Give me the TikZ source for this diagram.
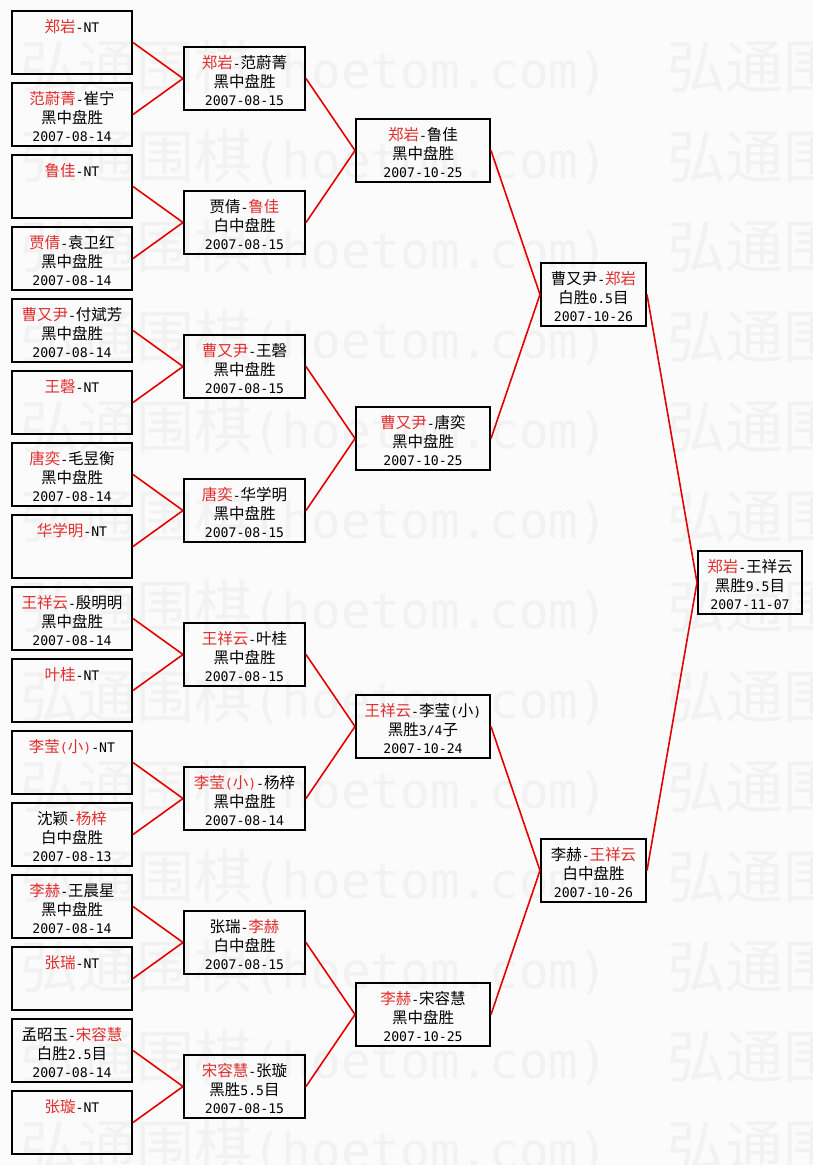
\documentclass[tikz,border=0pt]{standalone}
\usepackage{fontspec}
\setmainfont{DejaVu Sans Mono}[Scale=0.85]
\newfontfamily\cjk{Noto Sans CJK SC}
\definecolor{wred}{RGB}{225,45,45}
\definecolor{lred}{RGB}{228,0,0}
\definecolor{bg}{RGB}{251,251,251}
\definecolor{wmark}{RGB}{242,242,242}
\newcommand\cj[1]{{\cjk #1}}
\newcommand\rd[1]{{\color{wred}\cjk #1}}
\newcommand\pr[1]{{\rmfamily #1}}
\newcommand\tst{\rule{0pt}{21pt}}
\newcommand\bst{\rule[-4pt]{0pt}{4pt}}
\tikzset{
  box/.style={draw=black, line width=2pt, inner sep=0pt, minimum height=63pt,
    align=center, font=\fontsize{15.5}{18.5}\selectfont},
  boxa/.style={box, minimum width=120pt},
  boxb/.style={box, minimum width=121pt},
  boxc/.style={box, minimum width=134pt},
  boxd/.style={box, minimum width=105pt},
  boxe/.style={box, minimum width=104pt},
  conn/.style={draw=lred, line width=1.6pt},
  wm/.style={text=wmark, font=\fontsize{58}{60}\selectfont, inner sep=0pt, anchor=north west}
}
\begin{document}
\begin{tikzpicture}[x=1pt, y=-1pt]
\useasboundingbox (0,0) rectangle (813,1165);
\fill[bg] (0,0) rectangle (813,1165);
% watermark
\begin{scope}
\clip (0,0) rectangle (813,1165);
\foreach \k in {0,...,12}{
  \node[wm] (wma\k) at (20,{40+90*\k}) {\cj{弘通围棋}(hoetom.com)};
  \node[wm] (wmb\k) at (667,{40+90*\k}) {\cj{弘通围棋}(hoetom.com)};
}
\end{scope}
% round 1
\node[boxa] (a1)  at (72,42.5)   {\tst\rd{郑岩}-NT\\\mbox{}\\\mbox{}\bst};
\node[boxa] (a2)  at (72,114.5)  {\tst\rd{范蔚菁}-\cj{崔宁}\\\cj{黑中盘胜}\\2007-08-14\bst};
\node[boxa] (a3)  at (72,186.5)  {\tst\rd{鲁佳}-NT\\\mbox{}\\\mbox{}\bst};
\node[boxa] (a4)  at (72,258.5)  {\tst\rd{贾倩}-\cj{袁卫红}\\\cj{黑中盘胜}\\2007-08-14\bst};
\node[boxa] (a5)  at (72,330.5)  {\tst\rd{曹又尹}-\cj{付斌芳}\\\cj{黑中盘胜}\\2007-08-14\bst};
\node[boxa] (a6)  at (72,402.5)  {\tst\rd{王磬}-NT\\\mbox{}\\\mbox{}\bst};
\node[boxa] (a7)  at (72,474.5)  {\tst\rd{唐奕}-\cj{毛昱衡}\\\cj{黑中盘胜}\\2007-08-14\bst};
\node[boxa] (a8)  at (72,546.5)  {\tst\rd{华学明}-NT\\\mbox{}\\\mbox{}\bst};
\node[boxa] (a9)  at (72,618.5)  {\tst\rd{王祥云}-\cj{殷明明}\\\cj{黑中盘胜}\\2007-08-14\bst};
\node[boxa] (a10) at (72,690.5)  {\tst\rd{叶桂}-NT\\\mbox{}\\\mbox{}\bst};
\node[boxa] (a11) at (72,762.5)  {\tst\rd{李莹\pr{(}小\pr{)}}-NT\\\mbox{}\\\mbox{}\bst};
\node[boxa] (a12) at (72,834.5)  {\tst\cj{沈颖}-\rd{杨梓}\\\cj{白中盘胜}\\2007-08-13\bst};
\node[boxa] (a13) at (72,906.5)  {\tst\rd{李赫}-\cj{王晨星}\\\cj{黑中盘胜}\\2007-08-14\bst};
\node[boxa] (a14) at (72,978.5)  {\tst\rd{张瑞}-NT\\\mbox{}\\\mbox{}\bst};
\node[boxa] (a15) at (72,1050.5) {\tst\cj{孟昭玉}-\rd{宋容慧}\\\cj{白胜}2.5\cj{目}\\2007-08-14\bst};
\node[boxa] (a16) at (72,1122.5) {\tst\rd{张璇}-NT\\\mbox{}\\\mbox{}\bst};
% round 2
\node[boxb] (b1) at (244.5,78.5)   {\tst\rd{郑岩}-\cj{范蔚菁}\\\cj{黑中盘胜}\\2007-08-15\bst};
\node[boxb] (b2) at (244.5,222.5)  {\tst\cj{贾倩}-\rd{鲁佳}\\\cj{白中盘胜}\\2007-08-15\bst};
\node[boxb] (b3) at (244.5,366.5)  {\tst\rd{曹又尹}-\cj{王磬}\\\cj{黑中盘胜}\\2007-08-15\bst};
\node[boxb] (b4) at (244.5,510.5)  {\tst\rd{唐奕}-\cj{华学明}\\\cj{黑中盘胜}\\2007-08-15\bst};
\node[boxb] (b5) at (244.5,654.5)  {\tst\rd{王祥云}-\cj{叶桂}\\\cj{黑中盘胜}\\2007-08-15\bst};
\node[boxb] (b6) at (244.5,798.5)  {\tst\rd{李莹\pr{(}小\pr{)}}-\cj{杨梓}\\\cj{黑中盘胜}\\2007-08-14\bst};
\node[boxb] (b7) at (244.5,942.5)  {\tst\cj{张瑞}-\rd{李赫}\\\cj{白中盘胜}\\2007-08-15\bst};
\node[boxb] (b8) at (244.5,1086.5) {\tst\rd{宋容慧}-\cj{张璇}\\\cj{黑胜}5.5\cj{目}\\2007-08-15\bst};
% round 3
\node[boxc] (c1) at (423,150.5)  {\tst\rd{郑岩}-\cj{鲁佳}\\\cj{黑中盘胜}\\2007-10-25\bst};
\node[boxc] (c2) at (423,438.5)  {\tst\rd{曹又尹}-\cj{唐奕}\\\cj{黑中盘胜}\\2007-10-25\bst};
\node[boxc] (c3) at (423,726.5)  {\tst\rd{王祥云}-\cj{李莹\pr{(}小\pr{)}}\\\cj{黑胜}3/4\cj{子}\\2007-10-24\bst};
\node[boxc] (c4) at (423,1014.5) {\tst\rd{李赫}-\cj{宋容慧}\\\cj{黑中盘胜}\\2007-10-25\bst};
% round 4
\node[boxd] (d1) at (593.5,294.5) {\tst\cj{曹又尹}-\rd{郑岩}\\\cj{白胜}0.5\cj{目}\\2007-10-26\bst};
\node[boxd] (d2) at (593.5,870.5) {\tst\cj{李赫}-\rd{王祥云}\\\cj{白中盘胜}\\2007-10-26\bst};
% final
\node[boxe] (e1) at (750,582.5) {\tst\rd{郑岩}-\cj{王祥云}\\\cj{黑胜}9.5\cj{目}\\2007-11-07\bst};
% connectors
\foreach \i/\j in {1/1,2/1,3/2,4/2,5/3,6/3,7/4,8/4,9/5,10/5,11/6,12/6,13/7,14/7,15/8,16/8}
  \draw[conn] (a\i.east) -- (b\j.west);
\foreach \i/\j in {1/1,2/1,3/2,4/2,5/3,6/3,7/4,8/4}
  \draw[conn] (b\i.east) -- (c\j.west);
\foreach \i/\j in {1/1,2/1,3/2,4/2}
  \draw[conn] (c\i.east) -- (d\j.west);
\draw[conn] (d1.east) -- (e1.west);
\draw[conn] (d2.east) -- (e1.west);
\end{tikzpicture}
\end{document}
